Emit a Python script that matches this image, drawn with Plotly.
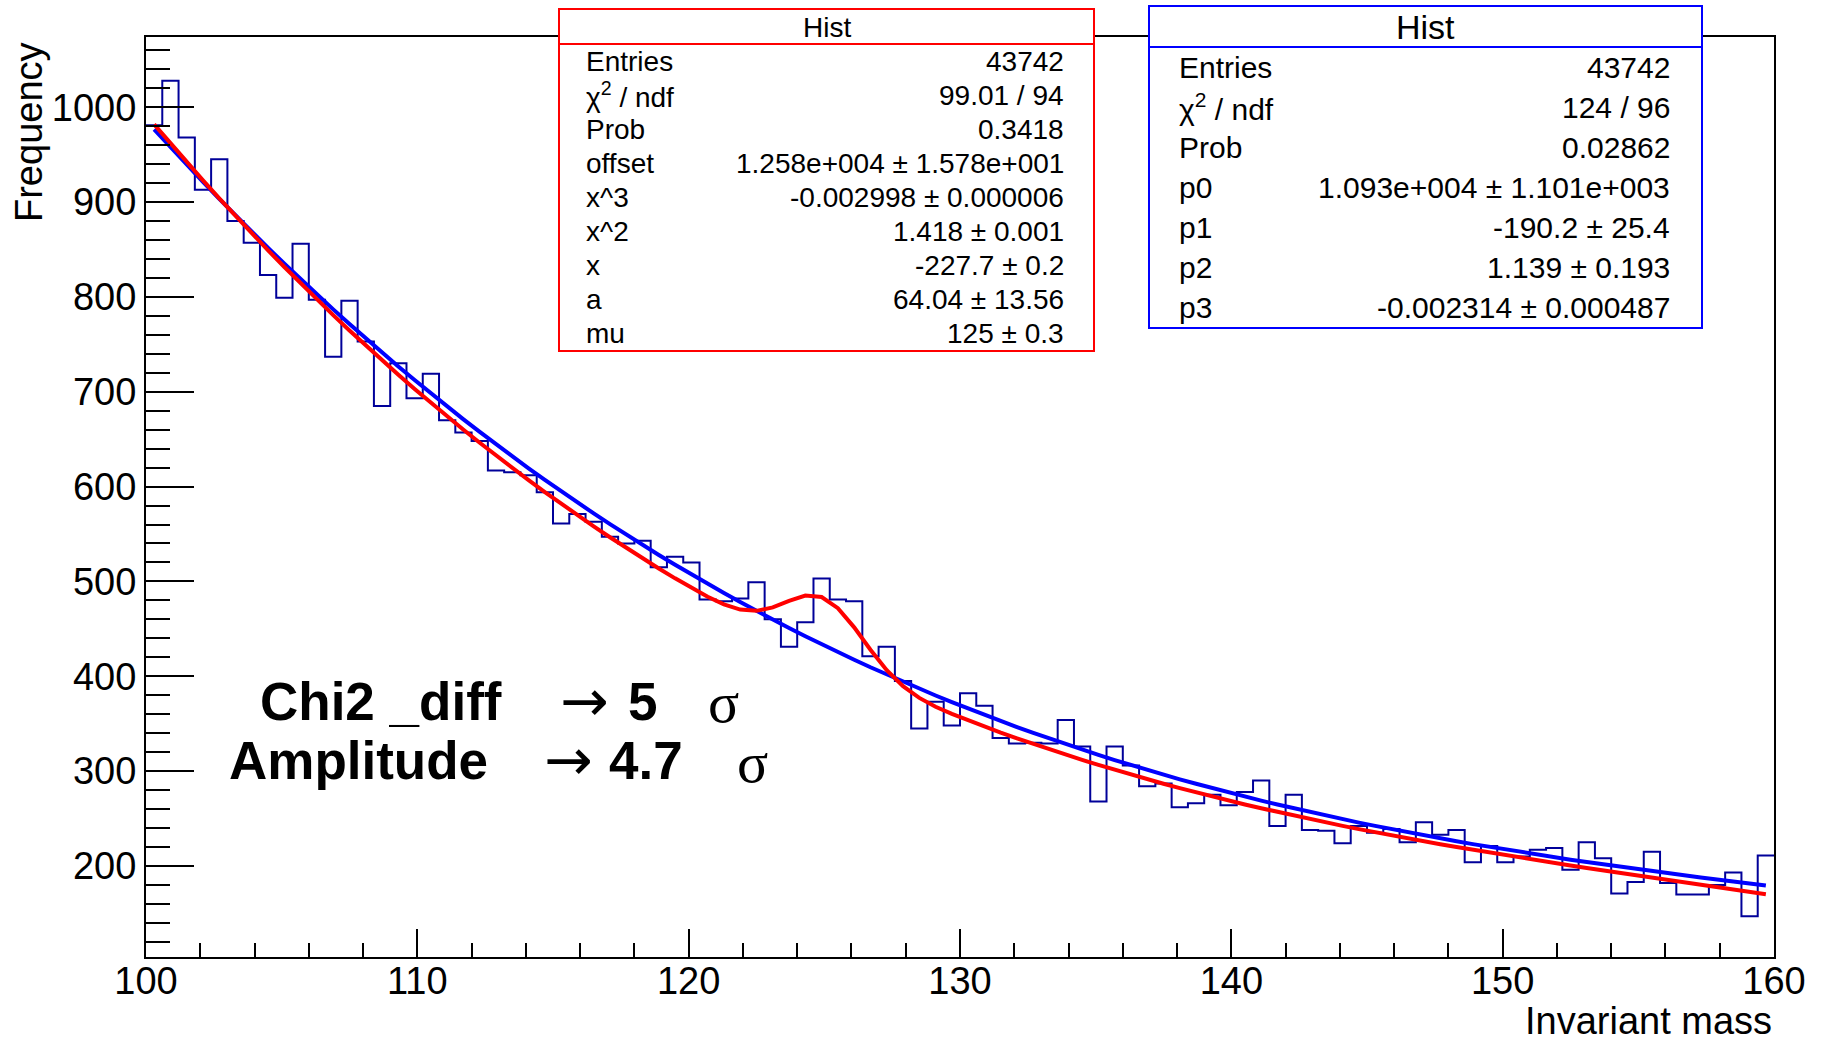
import numpy as np
import plotly.graph_objects as go

# ---------------- data ----------------
X_MIN, X_MAX, N_BINS = 100.0, 160.0, 100

counts = [
    981, 1028, 968, 913, 945, 880, 857, 823, 799, 856,
    797, 737, 796, 753, 685, 730, 693, 719, 670, 657,
    648, 617, 615, 612, 594, 561, 571, 563, 547, 540,
    543, 515, 526, 520, 481, 479, 482, 499, 460, 431,
    457, 503, 481, 479, 421, 431, 395, 345, 373, 348,
    382, 369, 335, 329, 330, 329, 354, 326, 268, 326,
    306, 284, 287, 262, 266, 275, 264, 278, 290, 242,
    275, 238, 237, 224, 242, 235, 239, 225, 246, 233,
    238, 204, 221, 204, 210, 217, 219, 196, 225, 208,
    171, 183, 215, 182, 170, 170, 180, 193, 147, 211,
]

# background-only fit: p0 + p1 x + p2 x^2 + p3 x^3
bkg_params = [1.093e4, -190.2, 1.139, -0.002314]
# signal + background fit: offset + x*c1 + x^2*c2 + x^3*c3 + a*gaus(mu)
sb_offset, sb_c1, sb_c2, sb_c3 = 1.258e4, -227.7, 1.418, -0.002998
sb_a, sb_mu = 64.04, 125.0
SB_WIDTH = 1.45          # fixed gaussian width
FIT_LO, FIT_HI, FIT_NPX = 100.3, 159.7, 100

red_labels = ["Entries", "\u03c7<sup>2</sup> / ndf", "Prob", "offset", "x^3", "x^2", "x", "a", "mu"]
red_values = ["43742", "99.01 / 94", "0.3418", "1.258e+004 \u00b1 1.578e+001",
              "-0.002998 \u00b1 0.000006", "1.418 \u00b1 0.001", "-227.7 \u00b1 0.2",
              "64.04 \u00b1 13.56", "125 \u00b1 0.3"]
blue_labels = ["Entries", "\u03c7<sup>2</sup> / ndf", "Prob", "p0", "p1", "p2", "p3"]
blue_values = ["43742", "124 / 96", "0.02862", "1.093e+004 \u00b1 1.101e+003",
               "-190.2 \u00b1 25.4", "1.139 \u00b1 0.193", "-0.002314 \u00b1 0.000487"]

# ---------------- geometry (pixels) ----------------
FIG_W, FIG_H = 1825, 1041
L, R, T, B = 146, 1774, 37, 957
Y_RANGE = [104, 1074]


def px(x):
    return (x - L) / (R - L)


def py(y):
    return (B - y) / (B - T)


FONT = "Liberation Sans"
SERIF = "Liberation Serif"
ARROW_FONT = "DejaVu Sans"

edges = np.linspace(X_MIN, X_MAX, N_BINS + 1)
hist_y = list(counts) + [counts[-1]]

xf = np.linspace(FIT_LO, FIT_HI, FIT_NPX)
bkg_curve = sum(c * xf ** i for i, c in enumerate(bkg_params))
sb_curve = (sb_offset + sb_c1 * xf + sb_c2 * xf ** 2 + sb_c3 * xf ** 3
            + sb_a * np.exp(-0.5 * ((xf - sb_mu) / SB_WIDTH) ** 2))

fig = go.Figure()
fig.add_trace(go.Scatter(x=edges, y=hist_y, mode="lines", line_shape="hv",
                         line=dict(color="#000099", width=2), showlegend=False))
fig.add_trace(go.Scatter(x=xf, y=bkg_curve, mode="lines",
                         line=dict(color="#0000ff", width=4), showlegend=False))
fig.add_trace(go.Scatter(x=xf, y=sb_curve, mode="lines",
                         line=dict(color="#ff0000", width=4), showlegend=False))

axis_common = dict(showgrid=False, zeroline=False, showline=True, mirror=True,
                   linecolor="black", linewidth=2, ticks="inside", tickwidth=2,
                   tickcolor="black", tickfont=dict(family=FONT, size=38, color="black"))

fig.update_xaxes(range=[X_MIN, X_MAX], tick0=100, dtick=10, ticklen=28,
                 ticklabelstandoff=-11,
                 minor=dict(dtick=2, ticks="inside", ticklen=14, tickwidth=2,
                            tickcolor="black", showgrid=False),
                 **axis_common)
fig.update_yaxes(range=Y_RANGE, tick0=0, dtick=100, ticklen=48,
                 minor=dict(dtick=20, ticks="inside", ticklen=24, tickwidth=2,
                            tickcolor="black", showgrid=False),
                 **axis_common)

shapes = []
annotations = []


def text(x, y, s, size, xanchor="left", family=FONT, bold=False, angle=0, yanchor="middle"):
    if bold:
        s = "<b>" + s + "</b>"
    annotations.append(dict(x=px(x), y=py(y), xref="paper", yref="paper", text=s,
                            showarrow=False, xanchor=xanchor, yanchor=yanchor,
                            textangle=angle,
                            font=dict(family=family, size=size, color="black")))


def stat_box(x0, x1, y0, y1, sep, color, title_size, row_size, labels, values, lx, rx):
    shapes.append(dict(type="rect", xref="paper", yref="paper",
                       x0=px(x0), x1=px(x1), y0=py(y1), y1=py(y0),
                       line=dict(color=color, width=2), fillcolor="white", layer="above"))
    shapes.append(dict(type="line", xref="paper", yref="paper",
                       x0=px(x0), x1=px(x1), y0=py(sep), y1=py(sep),
                       line=dict(color=color, width=2), layer="above"))
    text((x0 + x1) / 2, (y0 + sep) / 2 + 1, "Hist", title_size, xanchor="center")
    step = (y1 - sep) / len(labels)
    for i, (lab, val) in enumerate(zip(labels, values)):
        yc = sep + step * (i + 0.5)
        text(lx, yc, lab, row_size, xanchor="left")
        text(rx, yc, val, row_size, xanchor="right")


stat_box(559, 1094, 9, 351, 44, "#ff0000", 28, 28, red_labels, red_values, 584, 1066)
stat_box(1149, 1702, 6, 328, 47, "#0000ff", 34, 30, blue_labels, blue_values, 1177, 1672)

# axis titles
text(29, 40, "Frequency", 38, xanchor="center", angle=-90, yanchor="top")
text(R, 1021, "Invariant mass", 38, xanchor="right")

# significance summary
text(258, 701, "Chi2 _diff", 53, bold=True)
text(558, 701, "\u2192", 58, family=ARROW_FONT)
text(626, 701, "5", 53, bold=True)
text(706, 703, "\u03c3", 58, family=SERIF)
text(227, 760, "Amplitude", 53, bold=True)
text(542, 760, "\u2192", 58, family=ARROW_FONT)
text(607, 760, "4.7", 53, bold=True)
text(735, 762, "\u03c3", 58, family=SERIF)

fig.update_layout(width=FIG_W, height=FIG_H,
                  margin=dict(l=L, r=FIG_W - R, t=T, b=FIG_H - B),
                  paper_bgcolor="white", plot_bgcolor="white",
                  shapes=shapes, annotations=annotations)

fig.write_html("out.html")
